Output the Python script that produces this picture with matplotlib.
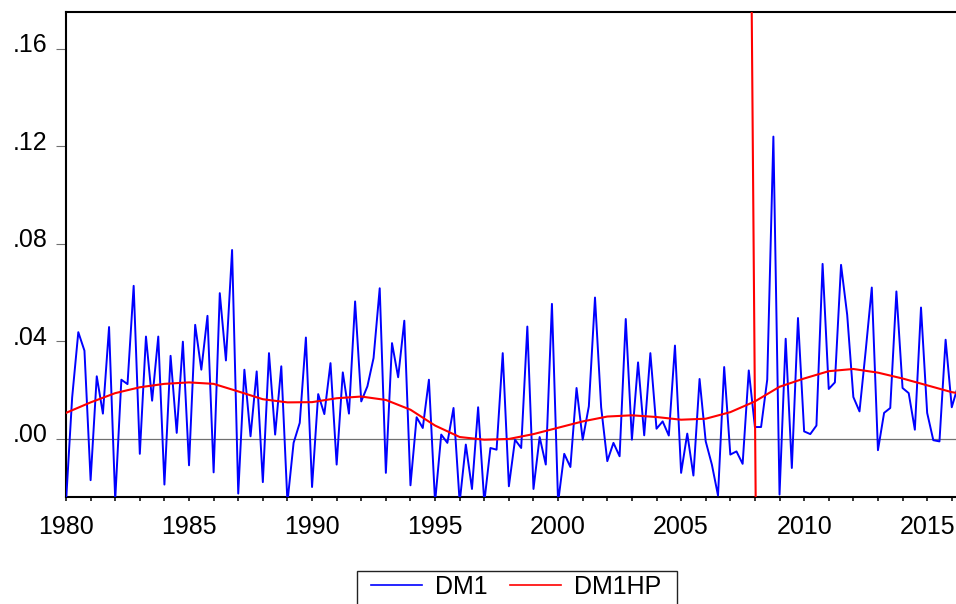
import numpy as np
import matplotlib
matplotlib.use("Agg")
import matplotlib.pyplot as plt
from matplotlib.transforms import ScaledTranslation
from matplotlib.patches import Rectangle

plt.rcParams['font.family'] = ['Liberation Sans', 'DejaVu Sans']

start_year = 1980
dm1 = [-0.026, 0.017, 0.0438, 0.0362, -0.0169, 0.0257, 0.0104, 0.0459, -0.025, 0.0243,
       0.0225, 0.0628, -0.0061, 0.042, 0.0157, 0.042, -0.0187, 0.0341, 0.0025, 0.0399,
       -0.0108, 0.0468, 0.0284, 0.0505, -0.0137, 0.0598, 0.0322, 0.0775, -0.0224, 0.0284,
       0.0011, 0.0277, -0.0177, 0.0352, 0.0018, 0.0298, -0.026, -0.0016, 0.0066, 0.0416,
       -0.0197, 0.0184, 0.0102, 0.0311, -0.0105, 0.0273, 0.0104, 0.0564, 0.0154, 0.0216,
       0.0332, 0.0618, -0.0139, 0.0393, 0.0253, 0.0485, -0.019, 0.0089, 0.0045, 0.0243,
       -0.026, 0.0018, -0.0016, 0.0127, -0.026, -0.0023, -0.0205, 0.013, -0.026, -0.0037,
       -0.0044, 0.0352, -0.0194, -0.0003, -0.0037, 0.0461, -0.0205, 0.0008, -0.0105, 0.0554,
       -0.026, -0.0061, -0.0115, 0.0209, -0.0003, 0.0134, 0.058, 0.013, -0.0091, -0.0016,
       -0.0071, 0.0492, -0.0003, 0.0314, 0.0015, 0.0352, 0.0042, 0.0072, 0.0014, 0.0383,
       -0.0139, 0.0022, -0.015, 0.0246, -0.001, -0.0105, -0.0232, 0.0295, -0.0064, -0.0051,
       -0.0102, 0.0281, 0.0049, 0.0049, 0.0243, 0.124, -0.0228, 0.0411, -0.0119, 0.0496,
       0.0031, 0.002, 0.0055, 0.0718, 0.0205, 0.0232, 0.0714, 0.0509, 0.0172, 0.0113,
       0.036, 0.0621, -0.0046, 0.0107, 0.0127, 0.0605, 0.0209, 0.0188, 0.0038, 0.0539,
       0.0107, -0.0005, -0.001, 0.0407, 0.013, 0.0216]

hp_years = [1980, 1981, 1982, 1983, 1984, 1985, 1986, 1987, 1988, 1989, 1990, 1991, 1992,
            1993, 1994, 1995, 1996, 1997, 1998, 1999, 2000, 2001, 2002, 2003, 2004, 2005,
            2006, 2007, 2008, 2009, 2010, 2011, 2012, 2013, 2014, 2015, 2016, 2016.25]
dm1hp = [0.0107, 0.0150, 0.0188, 0.0212, 0.0226, 0.0232, 0.0226, 0.0195, 0.0163, 0.0150,
         0.0151, 0.0167, 0.0174, 0.0160, 0.0120, 0.0055, 0.0008, -0.0003, 0.0000, 0.0020,
         0.0046, 0.0072, 0.0092, 0.0097, 0.0090, 0.0079, 0.0083, 0.0110, 0.0154, 0.0214,
         0.0248, 0.0278, 0.0287, 0.0272, 0.0248, 0.0220, 0.0192, 0.0188]

break_line_x = [2007.87, 2008.03]

yticks = [0.0, 0.04, 0.08, 0.12, 0.16]
ytick_labels = ['.00', '.04', '.08', '.12', '.16']
xticks_major = [1980, 1985, 1990, 1995, 2000, 2005, 2010, 2015]

x = start_year + np.arange(len(dm1)) / 4.0

W, H = 956, 604
fig = plt.figure(figsize=(W/100, H/100), dpi=100)
ax = fig.add_axes([66/W, 1 - 497/H, 1 - 66/W + 0.002, (497 - 12)/H])

ymin, ymax = -0.0238, 0.1751
ax.axhline(0, color='#707070', lw=0.9, zorder=1)
l1, = ax.plot(x, dm1, color='#0000FF', lw=1.4, label='DM1', zorder=3)
l2, = ax.plot(hp_years, dm1hp, color='#FF0000', lw=1.5, label='DM1HP', zorder=4)
ax.plot(break_line_x, [ymax, ymin], color='#FF0000', lw=1.5, zorder=5, clip_on=True)

ax.set_xlim(1980, 2016.25)
ax.set_ylim(ymin, ymax)

ax.set_yticks(yticks)
ax.set_yticklabels(ytick_labels)
ax.set_xticks(xticks_major)
ax.set_xticklabels([str(v) for v in xticks_major])
ax.set_xticks(np.arange(1980, 2017, 1), minor=True)

ax.tick_params(axis='y', which='major', direction='out', length=7.2, width=0.8,
               color='#707070', labelsize=18, pad=6)
ax.tick_params(axis='x', which='both', direction='out', length=3, width=1.1,
               color='black', labelsize=18, pad=10)
shift = ScaledTranslation(0, -2.5/72, fig.dpi_scale_trans)
for lbl in ax.get_yticklabels():
    lbl.set_verticalalignment('baseline')
    lbl.set_transform(lbl.get_transform() + shift)
ax.spines['right'].set_visible(False)
for s in ['left', 'top', 'bottom']:
    ax.spines[s].set_linewidth(1.5)

leg = fig.legend(handles=[l1, l2], loc='center',
                 bbox_to_anchor=(516/W, 1 - 587/H), borderaxespad=0,
                 ncol=2, fontsize=18, frameon=False, handlelength=2.05,
                 handletextpad=0.5, columnspacing=0.9, borderpad=0.0)
for ln in leg.get_lines():
    ln.set_linewidth(1.2)

fig.patches.append(Rectangle((357/W, -0.05), (677 - 357)/W, 0.05 + (H - 571)/H,
                             transform=fig.transFigure, fill=False,
                             edgecolor='#222222', lw=1.0, figure=fig))

fig.savefig('out.png', dpi=100)
